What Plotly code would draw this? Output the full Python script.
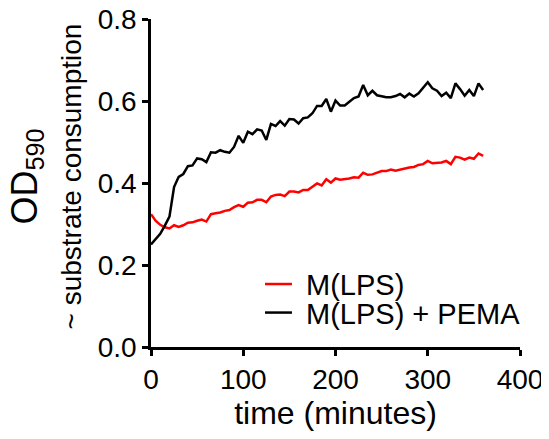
import plotly.graph_objects as go

# time points (minutes), one read every 5 min
time_min = list(range(0, 365, 5))

od_lps = [0.324, 0.308, 0.298, 0.292, 0.289, 0.297, 0.293, 0.297, 0.303, 0.304,
          0.308, 0.311, 0.306, 0.324, 0.326, 0.328, 0.332, 0.334, 0.341, 0.346,
          0.342, 0.352, 0.353, 0.359, 0.359, 0.353, 0.367, 0.371, 0.372, 0.368,
          0.379, 0.379, 0.377, 0.383, 0.383, 0.390, 0.399, 0.394, 0.409, 0.401,
          0.411, 0.408, 0.409, 0.411, 0.414, 0.413, 0.425, 0.420, 0.421, 0.425,
          0.429, 0.429, 0.433, 0.430, 0.433, 0.435, 0.438, 0.439, 0.444, 0.446,
          0.454, 0.448, 0.449, 0.450, 0.454, 0.446, 0.464, 0.462, 0.457, 0.462,
          0.459, 0.472, 0.466]

od_lps_pema = [0.250, 0.262, 0.276, 0.296, 0.318, 0.390, 0.415, 0.422, 0.441, 0.443,
               0.460, 0.458, 0.451, 0.475, 0.474, 0.480, 0.476, 0.474, 0.488, 0.515,
               0.498, 0.525, 0.519, 0.531, 0.528, 0.505, 0.544, 0.539, 0.551, 0.540,
               0.556, 0.555, 0.545, 0.558, 0.560, 0.570, 0.588, 0.588, 0.605, 0.574,
               0.601, 0.589, 0.589, 0.598, 0.607, 0.611, 0.639, 0.614, 0.625, 0.614,
               0.611, 0.609, 0.609, 0.612, 0.617, 0.609, 0.618, 0.611, 0.619, 0.633,
               0.646, 0.631, 0.625, 0.612, 0.620, 0.607, 0.643, 0.629, 0.613, 0.627,
               0.612, 0.643, 0.627]

series_names = ["M(LPS)", "M(LPS) + PEMA"]
series_colors = ["#ff0000", "#000000"]

font = "Arial, Liberation Sans, sans-serif"

fig = go.Figure()
fig.add_trace(go.Scatter(x=time_min, y=od_lps, mode="lines", name=series_names[0],
                         line=dict(color=series_colors[0], width=2.5)))
fig.add_trace(go.Scatter(x=time_min, y=od_lps_pema, mode="lines", name=series_names[1],
                         line=dict(color=series_colors[1], width=2.5)))

fig.update_xaxes(range=[0, 400], tickvals=[0, 100, 200, 300, 400], automargin=False,
                 ticklabeloverflow="allow",
                 showline=True, linecolor="black", linewidth=2.5,
                 ticks="outside", ticklen=6, tickwidth=2.5, tickcolor="black",
                 showgrid=False, zeroline=False,
                 tickfont=dict(size=28, color="black"),
                 title=dict(text="time (minutes)", font=dict(size=32, color="black"), standoff=6))
fig.update_yaxes(range=[0, 0.8], tickvals=[0, 0.2, 0.4, 0.6, 0.8], tickformat=".1f",
                 automargin=False, ticklabeloverflow="allow",
                 showline=True, linecolor="black", linewidth=2.5,
                 ticks="outside", ticklen=6, tickwidth=2.5, tickcolor="black",
                 showgrid=False, zeroline=False,
                 tickfont=dict(size=28, color="black"))

# y axis title, two parts
fig.add_annotation(text="OD<sub>590</sub>", xref="paper", yref="paper", x=0, y=0.52,
                   xshift=-124, textangle=-90, showarrow=False,
                   xanchor="center", yanchor="middle",
                   font=dict(size=36, color="black"))
fig.add_annotation(text="~ substrate consumption", xref="paper", yref="paper", x=0, y=0.52,
                   xshift=-80, textangle=-90, showarrow=False,
                   xanchor="center", yanchor="middle",
                   font=dict(size=28, color="black"))

# legend drawn by hand to get the tight spacing
leg_y = [0.192, 0.105]
for name, col, yy in zip(series_names, series_colors, leg_y):
    fig.add_shape(type="line", xref="paper", yref="paper", x0=0.309, x1=0.382, y0=yy, y1=yy,
                  line=dict(color=col, width=2.5))
    fig.add_annotation(text=name, xref="paper", yref="paper", x=0.415, y=yy - 0.004,
                       xanchor="left", yanchor="middle", showarrow=False,
                       font=dict(size=29, color="black"))

# page body has an 8px margin, so the figure is 8px smaller and shifted
fig.update_layout(width=541, height=431, showlegend=False,
                  margin=dict(l=143, r=29, t=11, b=92),
                  plot_bgcolor="white", paper_bgcolor="white",
                  font=dict(family=font, color="black"))

fig.write_html("out.html")
